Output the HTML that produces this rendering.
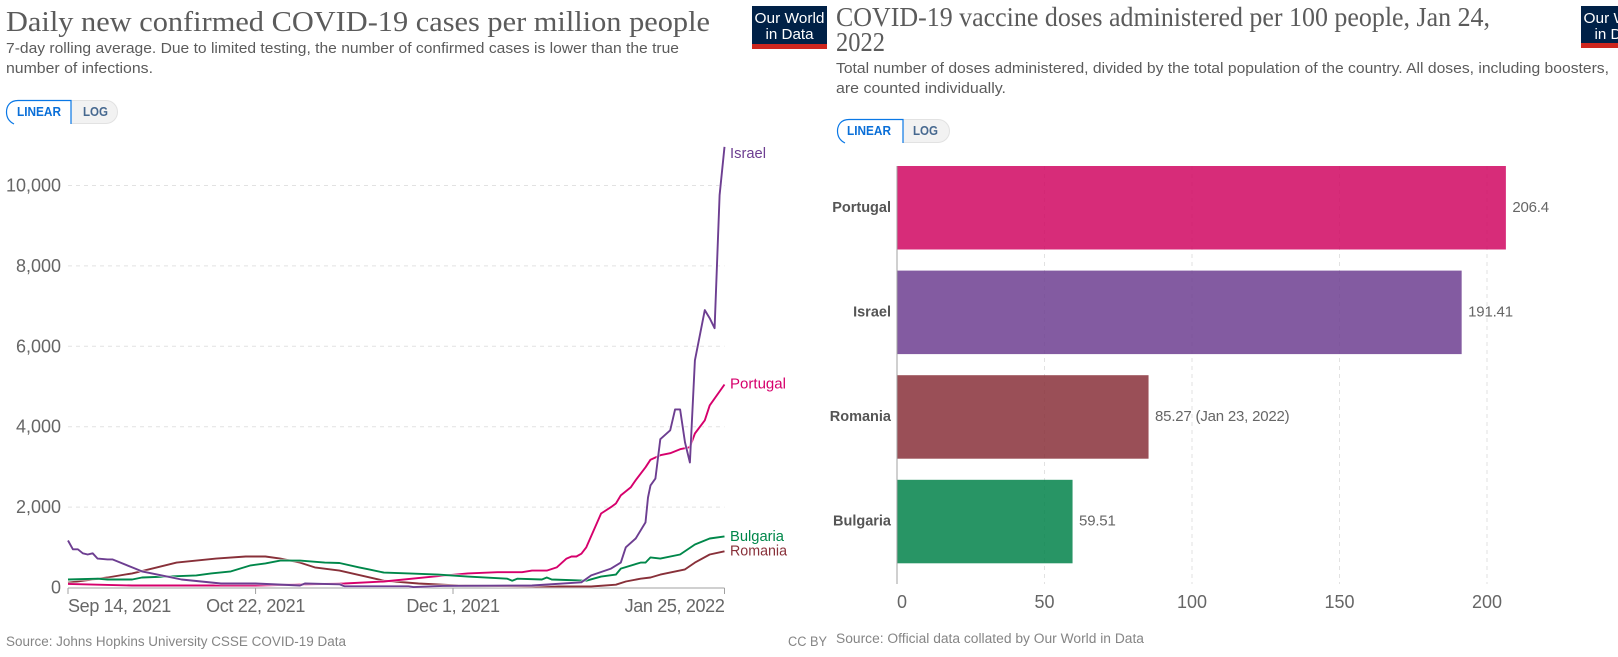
<!DOCTYPE html>
<html lang="en">
<head>
<meta charset="utf-8">
<title>COVID-19 charts</title>
<style>
html,body{margin:0;padding:0;background:#fff;width:1618px;height:657px;overflow:hidden}
svg{display:block;font-family:"Liberation Sans",Arial,sans-serif}
.title{font-family:"Liberation Serif",serif;font-size:29px;fill:#5b5b5b}
.title-r{font-family:"Liberation Serif",serif;font-size:27px;fill:#5b5b5b}
.sub{font-size:15px;fill:#5b5b5b}
.src{font-size:13.5px;fill:#858585}
.tick{font-size:18px;fill:#666}
.tickx{font-size:18px;fill:#666;letter-spacing:-.35px}
.btn{font-size:13px;font-weight:bold}
</style>
</head>
<body>
<svg id="root" width="1618" height="657" viewBox="0 0 1618 657" xmlns="http://www.w3.org/2000/svg">
  <!-- left header -->
  <text class="title" x="6" y="31" textLength="704" lengthAdjust="spacingAndGlyphs">Daily new confirmed COVID-19 cases per million people</text>
  <text class="sub" x="6" y="53" textLength="673" lengthAdjust="spacingAndGlyphs">7-day rolling average. Due to limited testing, the number of confirmed cases is lower than the true</text>
  <text class="sub" x="6" y="73" textLength="147" lengthAdjust="spacingAndGlyphs">number of infections.</text>
  <g>
    <rect x="752" y="6" width="75" height="38" fill="#002147"/>
    <rect x="752" y="44" width="75" height="5" fill="#ce261e"/>
    <text x="789.5" y="23" text-anchor="middle" fill="#fff" font-size="15" textLength="70" lengthAdjust="spacingAndGlyphs">Our World</text>
    <text x="789.5" y="39" text-anchor="middle" fill="#fff" font-size="15" textLength="48" lengthAdjust="spacingAndGlyphs">in Data</text>
  </g>
  <g>
    <path d="M71 100.5H106a11.5 11.5 0 0 1 0 23H71Z" fill="#f2f2f2" stroke="#e2e2e2"/>
    <path d="M71 124V100.5H18C10 100.5 6.5 106 6.5 112S10 122 14 124" fill="#fff" stroke="#0a78e6" stroke-width="1.2"/>
    <text class="btn" x="17" y="116" fill="#0a6fd8" textLength="44" lengthAdjust="spacingAndGlyphs">LINEAR</text>
    <text class="btn" x="83" y="116" fill="#46688f" textLength="25" lengthAdjust="spacingAndGlyphs">LOG</text>
  </g>
  <g id="lineChart"></g>
  <text class="src" x="6" y="646" textLength="340" lengthAdjust="spacingAndGlyphs">Source: Johns Hopkins University CSSE COVID-19 Data</text>
  <text class="src" x="788" y="646" textLength="39" lengthAdjust="spacingAndGlyphs">CC BY</text>

  <!-- right header -->
  <text class="title-r" x="836" y="26" textLength="654" lengthAdjust="spacingAndGlyphs">COVID-19 vaccine doses administered per 100 people, Jan 24,</text>
  <text class="title-r" x="836" y="51" textLength="49" lengthAdjust="spacingAndGlyphs">2022</text>
  <text class="sub" x="836" y="73" textLength="773" lengthAdjust="spacingAndGlyphs">Total number of doses administered, divided by the total population of the country. All doses, including boosters,</text>
  <text class="sub" x="836" y="93" textLength="170" lengthAdjust="spacingAndGlyphs">are counted individually.</text>
  <g>
    <rect x="1581" y="6" width="75" height="37" fill="#002147"/>
    <rect x="1581" y="43" width="75" height="5" fill="#ce261e"/>
    <text x="1618.5" y="23" text-anchor="middle" fill="#fff" font-size="15" textLength="70" lengthAdjust="spacingAndGlyphs">Our World</text>
    <text x="1618.5" y="39" text-anchor="middle" fill="#fff" font-size="15" textLength="48" lengthAdjust="spacingAndGlyphs">in Data</text>
  </g>
  <g>
    <path d="M903 119.5H938a11.5 11.5 0 0 1 0 23H903Z" fill="#f2f2f2" stroke="#e2e2e2"/>
    <path d="M903 143V119.5H849C841 119.5 837.5 125 837.5 131S841 141 845 143" fill="#fff" stroke="#0a78e6" stroke-width="1.2"/>
    <text class="btn" x="847" y="135" fill="#0a6fd8" textLength="44" lengthAdjust="spacingAndGlyphs">LINEAR</text>
    <text class="btn" x="913" y="135" fill="#46688f" textLength="25" lengthAdjust="spacingAndGlyphs">LOG</text>
  </g>
  <g id="barChart"></g>
  <text class="src" x="836" y="643" textLength="308" lengthAdjust="spacingAndGlyphs">Source: Official data collated by Our World in Data</text>
</svg>

<script>
// ---- line chart data (day = days since Sep 14, 2021) ----
const yTicks = [0, 2000, 4000, 6000, 8000, 10000];
const xTickDays = [0, 38, 78, 133];
const xTickLabels = ["Sep 14, 2021", "Oct 22, 2021", "Dec 1, 2021", "Jan 25, 2022"];

const romaniaDays = [0,8,13,18,22,26,30,36,40,43,47,50,55,60,64,71,79,94,106,111,113,116,118,120,125,127,130,133];
const romaniaValues = [120,250,350,500,620,670,720,770,770,720,620,500,420,280,170,100,50,25,25,70,150,220,250,320,450,620,820,900];

const portugalDays = [0,13,38,56,64,74,81,87,92,94,97,99,101,102,103,104,105,108,110,111,112,114,115,117,118,120,122,124,126,127,129,130,133];
const portugalValues = [90,50,50,100,150,270,350,380,380,420,420,500,720,770,770,840,1000,1840,2000,2090,2290,2490,2670,2990,3180,3290,3340,3440,3490,3830,4160,4530,5050];

const bulgariaDays = [0,6,8,13,15,20,26,29,33,37,40,43,47,52,55,59,61,64,69,75,81,89,90,91,96,97,98,105,108,111,112,116,117,118,120,124,127,130,133];
const bulgariaValues = [200,220,200,200,250,270,300,350,400,550,600,670,670,620,610,500,450,370,350,320,270,220,170,220,200,250,200,170,270,320,470,620,620,750,720,820,1070,1220,1270];

const israelDays = [0,1,2,3,4,5,6,8,9,10,13,15,17,19,23,27,31,38,47,48,55,56,69,70,76,94,104,106,110,112,113,115,117,117.5,118,119,120,122,123,124,125,126,127,129,130,131,132,133];
const israelValues = [1170,950,950,850,820,850,720,700,700,650,500,400,350,300,200,150,100,100,50,100,80,30,30,10,40,50,130,300,470,620,1000,1220,1620,2240,2540,2710,3690,3910,4430,4430,3610,3110,5650,6900,6700,6450,9760,10960];

const seriesNames = ["Romania", "Portugal", "Bulgaria", "Israel"];
const seriesColors = ["#883039", "#d6006c", "#00874a", "#6d3e91"];

// ---- bar chart data ----
const barCountries = ["Portugal", "Israel", "Romania", "Bulgaria"];
const barValues = [206.4, 191.41, 85.27, 59.51];
const barNotes = ["", "", " (Jan 23, 2022)", ""];
const barColors = ["#d00762", "#6d3e91", "#883039", "#02824a"];
const barTicks = [0, 50, 100, 150, 200];

const NS = "http://www.w3.org/2000/svg";
function make(parent, tag, attrs, text) {
  const el = document.createElementNS(NS, tag);
  for (const k in attrs) el.setAttribute(k, attrs[k]);
  if (text !== undefined) el.textContent = text;
  parent.appendChild(el);
  return el;
}

// ---- line chart ----
const lineG = document.getElementById("lineChart");
const xDay = d => 68 + (724.5 - 68) * d / 133;
const yVal = v => 587.5 - (587.5 - 185.5) * v / 10000;

yTicks.forEach(t => {
  if (t > 0) {
    const grid = make(lineG, "line", {x1: 68, x2: 724.5, y1: yVal(t), y2: yVal(t), stroke: "#e2e2e2", "stroke-width": 1, "stroke-dasharray": "4 4"});
    
    
  }
  const lab = make(lineG, "text", {class: "tick", x: 61, y: yVal(t) + 6, "text-anchor": "end"}, t.toLocaleString("en-US"));
  
  
});

const xAxis = make(lineG, "line", {x1: 68, x2: 724.5, y1: 588, y2: 588, stroke: "#a1a1a1", "stroke-width": 1});



xTickDays.forEach((d, i) => {
  const tk = make(lineG, "line", {x1: xDay(d), x2: xDay(d), y1: 588, y2: 594, stroke: "#a1a1a1", "stroke-width": 1});
  
  
  const anchor = i === 0 ? "start" : i === xTickDays.length - 1 ? "end" : "middle";
  const lab = make(lineG, "text", {class: "tickx", x: xDay(d), y: 612, "text-anchor": anchor}, xTickLabels[i]);
  
  
});

const lineDays = [romaniaDays, portugalDays, bulgariaDays, israelDays];
const lineValues = [romaniaValues, portugalValues, bulgariaValues, israelValues];
lineDays.forEach((days, i) => {
  const pts = days.map((d, j) => xDay(d).toFixed(1) + "," + yVal(lineValues[i][j]).toFixed(1)).join(" ");
  const halo = make(lineG, "polyline", {points: pts, fill: "none", stroke: "#fff", "stroke-width": 3.4, "stroke-opacity": 0.6, "stroke-linejoin": "round"});
  
  
  const line = make(lineG, "polyline", {points: pts, fill: "none", stroke: seriesColors[i], "stroke-width": 1.9, "stroke-linejoin": "round"});
  
  
});

// direct labels: sit beside the end of each series (Romania nudged to clear Bulgaria)
const labelNudge = {Israel: 11, Portugal: 4, Bulgaria: 4.5, Romania: 4};
const labelWidth = {Israel: 36, Portugal: 56, Bulgaria: 54, Romania: 57};
seriesNames.forEach((name, i) => {
  const vals = lineValues[i];
  const lab = make(lineG, "text", {
    x: 730, y: yVal(vals[vals.length - 1]) + labelNudge[name], fill: seriesColors[i], "font-size": 15,
    textLength: labelWidth[name], lengthAdjust: "spacingAndGlyphs"
  }, name);
  
  
});

// ---- bar chart ----
const barG = document.getElementById("barChart");
const xBar = v => 897 + (1487 - 897) * v / 200;
const barTop = 166, barStep = 104.6, barH = 83.5;

barTicks.forEach((t, i) => {
  if (t > 0) {
    const grid = make(barG, "line", {x1: xBar(t), x2: xBar(t), y1: 166, y2: 584, stroke: "#e2e2e2", "stroke-width": 1, "stroke-dasharray": "4 4"});
    
    
  }
  const lab = make(barG, "text", {class: "tick", x: xBar(t), y: 608, "text-anchor": t === 0 ? "start" : "middle"}, String(t));
  
  
});

const baseAxis = make(barG, "line", {x1: 897, x2: 897, y1: 166, y2: 584, stroke: "#a1a1a1", "stroke-width": 1});



barCountries.forEach((c, i) => {
  const y = barTop + i * barStep;
  const rect = make(barG, "rect", {x: 897.5, y: y, width: xBar(barValues[i]) - 897.5, height: barH, fill: barColors[i], "fill-opacity": 0.85});
  
  
  const name = make(barG, "text", {x: 891, y: y + barH / 2 + 4, "text-anchor": "end", "font-size": 14.5, "font-weight": "bold", fill: "#555"}, c);
  
  
  const val = make(barG, "text", {x: xBar(barValues[i]) + 6.5, y: y + barH / 2 + 4, "font-size": 15, fill: "#666", "letter-spacing": "-.2"}, barValues[i] + barNotes[i]);
  
  
});
</script>
</body>
</html>
